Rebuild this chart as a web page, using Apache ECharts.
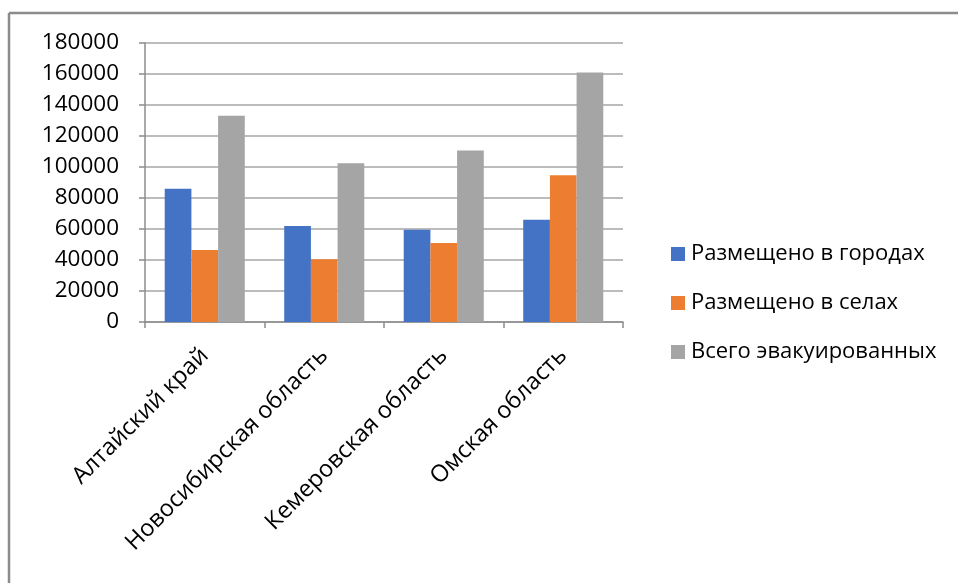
<!DOCTYPE html>
<html>
<head>
<meta charset="utf-8">
<script src="https://cdn.jsdelivr.net/npm/echarts@6/dist/echarts.min.js"></script>
<style>
  html, body { margin: 0; padding: 0; background: #ffffff; }
  #chart { width: 958px; height: 583px; }
</style>
</head>
<body>
<div id="chart"></div>
<script>
// Regions of Western Siberia
const categories = ['Алтайский край', 'Новосибирская область', 'Кемеровская область', 'Омская область'];

// Evacuees housed in towns, in villages, and the total
const inTowns = [86000, 62000, 59500, 66000];
const inVillages = [46500, 40500, 51000, 94700];
const totalEvacuated = [133000, 102500, 110700, 161000];

const seriesNames = ['Размещено в городах', 'Размещено в селах', 'Всего эвакуированных'];
const seriesColors = ['#4472C4', '#ED7D31', '#A5A5A5'];

const FONT = '"Open Sans", "Noto Sans", sans-serif';

const chart = echarts.init(document.getElementById('chart'), null, { renderer: 'canvas' });

chart.setOption({
  backgroundColor: '#ffffff',
  animation: false,
  textStyle: { fontFamily: FONT, color: '#000000' },
  grid: { left: 145, right: 335, top: 43, bottom: 261, containLabel: false },
  legend: {
    orient: 'vertical',
    left: 666,
    top: 238,
    itemWidth: 14,
    itemHeight: 14,
    itemGap: 27,
    icon: 'rect',
    textStyle: { fontFamily: FONT, fontSize: 22, lineHeight: 20, color: '#000000', padding: [0, 0, 0, 1] },
    data: seriesNames
  },
  xAxis: {
    type: 'category',
    data: categories,
    axisLine: { show: true, lineStyle: { color: '#8c8c8c', width: 1.5 } },
    axisTick: { show: true, alignWithLabel: false, length: 6, lineStyle: { color: '#8c8c8c', width: 1.5 } },
    axisLabel: { rotate: 45, fontSize: 23.5, fontFamily: FONT, color: '#000000', margin: 30, interval: 0 }
  },
  yAxis: {
    type: 'value',
    min: 0,
    max: 180000,
    interval: 20000,
    axisLine: { show: true, lineStyle: { color: '#8c8c8c', width: 1.5 } },
    axisTick: { show: true, length: 6, lineStyle: { color: '#8c8c8c', width: 1.5 } },
    axisLabel: { fontSize: 22.5, fontFamily: FONT, color: '#000000', margin: 26, formatter: (v) => String(v) },
    splitLine: { show: true, lineStyle: { color: '#a6a6a6', width: 1.5 } }
  },
  series: [
    { name: seriesNames[0], type: 'bar', data: inTowns, itemStyle: { color: seriesColors[0] }, barGap: '0%', barCategoryGap: '33%' },
    { name: seriesNames[1], type: 'bar', data: inVillages, itemStyle: { color: seriesColors[1] }, barGap: '0%', barCategoryGap: '33%' },
    { name: seriesNames[2], type: 'bar', data: totalEvacuated, itemStyle: { color: seriesColors[2] }, barGap: '0%', barCategoryGap: '33%' }
  ],
  graphic: [
    // frame around the chart area: top and left edges
    { type: 'line', shape: { x1: 9, y1: 13, x2: 958, y2: 13 }, style: { stroke: '#8c8c8c', lineWidth: 2.5 }, silent: true },
    { type: 'line', shape: { x1: 9, y1: 13, x2: 9, y2: 583 }, style: { stroke: '#8c8c8c', lineWidth: 2.5 }, silent: true }
  ]
});
</script>
</body>
</html>
